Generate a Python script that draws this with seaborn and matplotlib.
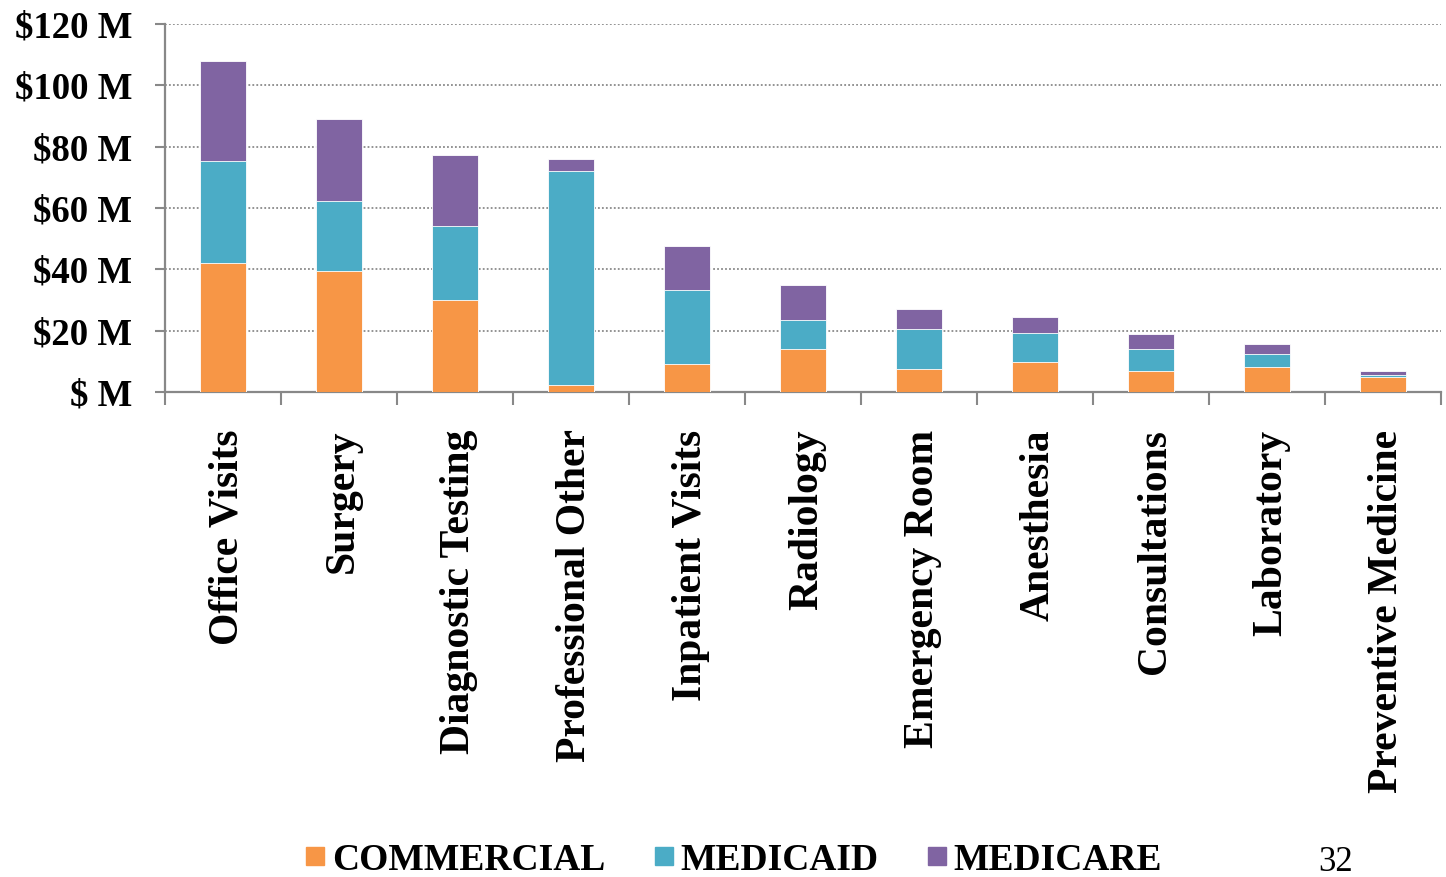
import numpy as np
import pandas as pd
import matplotlib
matplotlib.use("Agg")
import matplotlib.pyplot as plt
from matplotlib.lines import Line2D
from matplotlib.ticker import FixedLocator
import seaborn as sns

categories = ["Office Visits", "Surgery", "Diagnostic Testing", "Professional Other",
              "Inpatient Visits", "Radiology", "Emergency Room", "Anesthesia",
              "Consultations", "Laboratory", "Preventive Medicine"]
commercial = [42.0, 39.4, 30.1, 2.4, 9.2, 14.0, 7.4, 9.8, 6.9, 8.2, 5.0]
medicaid = [33.4, 22.9, 24.1, 69.6, 24.0, 9.5, 13.3, 9.6, 7.2, 4.2, 0.6]
medicare = [32.6, 26.8, 23.1, 4.0, 14.5, 11.5, 6.3, 5.2, 4.8, 3.4, 1.3]
series_names = ["COMMERCIAL", "MEDICAID", "MEDICARE"]
ytick_values = [0, 20, 40, 60, 80, 100, 120]
ytick_labels = ["$ M", "$20 M", "$40 M", "$60 M", "$80 M", "$100 M", "$120 M"]
colors = ["#F79646", "#4BACC6", "#8064A2"]

sns.set_theme(style="white")
plt.rcParams["font.family"] = ["Liberation Serif", "DejaVu Serif"]
plt.rcParams["text.color"] = "black"
plt.rcParams["xtick.labelcolor"] = "black"
plt.rcParams["ytick.labelcolor"] = "black"

df = pd.DataFrame({"category": categories, "COMMERCIAL": commercial,
                   "MEDICAID": medicaid, "MEDICARE": medicare})
df["c1"] = df["COMMERCIAL"]
df["c2"] = df["c1"] + df["MEDICAID"]
df["c3"] = df["c2"] + df["MEDICARE"]

fig = plt.figure(figsize=(14.46, 8.77), dpi=100)
ax = fig.add_axes([165/1446, 1 - 392/877, (1441-165)/1446, (392-24)/877])

for col, color in zip(["c3", "c2", "c1"], colors[::-1]):
    sns.barplot(data=df, x="category", y=col, color=color, width=0.4,
                saturation=1, ax=ax, zorder=3, edgecolor="white", linewidth=0.6)

n = len(categories)
ax.set_xlim(-0.5, n - 0.5)
ax.set_ylim(0, 120)
ax.set_xlabel("")
ax.set_ylabel("")

ax.set_yticks(ytick_values)
ax.set_yticklabels(ytick_labels, fontsize=26.5, fontweight="bold", color="black")
ax.yaxis.grid(True, linestyle=(0, (1, 1.2)), color="#8a8a8a", linewidth=1.3, zorder=0)
ax.set_axisbelow(True)

# label anchors nudged slightly right (major ticks are invisible)
ax.set_xticks(np.arange(n) + 0.035)
ax.set_xticklabels(categories, rotation=90, fontsize=30, fontweight="bold", va="top", ha="center",
                   color="black")
ax.xaxis.set_minor_locator(FixedLocator(np.arange(-0.5, n, 1.0)))
ax.tick_params(axis="x", which="major", length=0, pad=27)
ax.tick_params(axis="x", which="minor", length=9, width=1.5, color="#888888", direction="out", bottom=True)
ax.tick_params(axis="y", which="major", length=7.5, width=1.5, color="#888888", direction="out", left=True, pad=16)

for side in ["top", "right"]:
    ax.spines[side].set_visible(False)
for side in ["left", "bottom"]:
    ax.spines[side].set_color("#888888")
    ax.spines[side].set_linewidth(1.6)

handles = [Line2D([0], [0], marker="s", linestyle="none", markersize=13.5,
                  markerfacecolor=c, markeredgecolor=c) for c in colors]
leg = fig.legend(handles, series_names, loc="center", bbox_to_anchor=(733/1446, 1 - 860/877),
                 ncol=3, frameon=False, prop={"family": "Liberation Serif", "weight": "bold", "size": 27},
                 handletextpad=0.15, columnspacing=1.25, handlelength=0.6, borderpad=0)
for t in leg.get_texts():
    t.set_color("black")

fig.text(1318/1446, 1 - 846/877, "32", fontsize=25, va="top", ha="left", color="black")

fig.savefig("out.png", dpi=100)
